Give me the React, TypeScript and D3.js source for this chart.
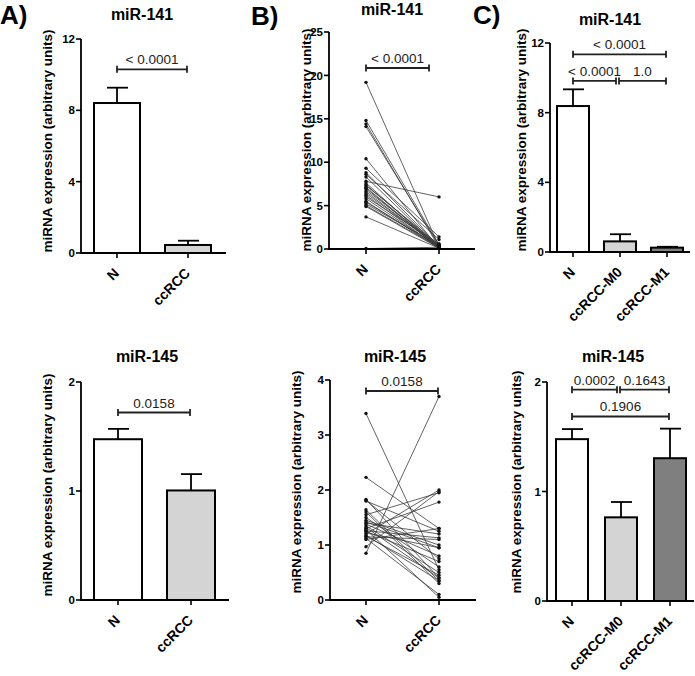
import React from "react";
import * as d3 from "d3";

// ---------- data ----------
const groupsNC = ["N", "ccRCC"];
const groupsM = ["N", "ccRCC-M0", "ccRCC-M1"];

const a141Mean = [8.41, 0.45];
const a141Err = [0.86, 0.24];
const a145Mean = [1.475, 1.005];
const a145Err = [0.095, 0.15];

const c141Mean = [8.38, 0.61, 0.25];
const c141Err = [0.96, 0.41, 0.05];
const c145Mean = [1.478, 0.764, 1.304];
const c145Err = [0.092, 0.14, 0.27];

const b141N = [19.2, 14.8, 14.4, 14.1, 10.4, 9.3, 8.8, 8.6, 8.3, 7.8, 7.6, 7.4, 7.3, 7.1, 7.0, 6.8, 6.6, 6.4, 6.2, 6.0, 5.8, 5.5, 5.4, 5.2, 5.0, 4.9, 3.7, 0.05];
const b141C = [0.3, 0.5, 0.2, 0.4, 0.1, 1.4, 0.3, 1.1, 0.2, 6.0, 0.1, 0.3, 0.5, 0.2, 0.1, 0.4, 0.2, 0.3, 0.1, 0.6, 0.2, 0.1, 0.3, 0.4, 0.2, 0.1, 0.1, 0.2];
const b145N = [3.39, 2.23, 1.83, 1.81, 1.80, 1.64, 1.60, 1.55, 1.50, 1.45, 1.42, 1.40, 1.38, 1.35, 1.32, 1.30, 1.28, 1.26, 1.25, 1.22, 1.20, 1.18, 1.16, 1.15, 1.12, 1.10, 0.97, 0.85];
const b145C = [0.55, 1.30, 0.40, 0.75, 1.25, 0.35, 0.30, 1.95, 0.60, 1.00, 0.95, 1.20, 0.80, 0.50, 0.40, 1.78, 0.05, 1.13, 0.70, 0.95, 2.00, 0.35, 0.45, 1.10, 0.10, 1.30, 1.97, 3.70];

const ticks141 = [0, 4, 8, 12];
const ticks145 = [0, 1, 2];
const ticksB141 = [0, 5, 10, 15, 20, 25];
const ticksB145 = [0, 1, 2, 3, 4];

const fillsNC = ["#ffffff", "#d4d4d4"];
const fillsM = ["#ffffff", "#d4d4d4", "#7f7f7f"];

const brA141 = [{ label: "< 0.0001", from: 0, to: 1, y: 10.3 }];
const brA145 = [{ label: "0.0158", from: 0, to: 1, y: 1.72 }];
const brB141 = [{ label: "< 0.0001", from: 0, to: 1, y: 20.85 }];
const brB145 = [{ label: "0.0158", from: 0, to: 1, y: 3.8 }];
const brC141 = [
  { label: "< 0.0001", from: 0, to: 2, y: 11.35 },
  { label: "< 0.0001", from: 0, to: 1, y: 9.82 },
  { label: "1.0", from: 1, to: 2, y: 9.82 },
];
const brC145 = [
  { label: "0.0002", from: 0, to: 1, y: 1.93 },
  { label: "0.1643", from: 1, to: 2, y: 1.93 },
  { label: "0.1906", from: 0, to: 2, y: 1.685 },
];

const YLABEL = "miRNA expression (arbitrary units)";
const FONT = "'Liberation Sans', Arial, Helvetica, sans-serif";

type Br = { label: string; from: number; to: number; y: number };

type Layout = {
  x0: number; xEnd: number; yTop: number; yZero: number;
  centers: number[]; barW: number;
  title: string; titleX: number; titleY: number; yLabelX: number; yLabelY: number;
  shrinkRight?: number;
};

function Axes({ L, y, ticks, groups }: { L: Layout; y: d3.ScaleLinear<number, number>; ticks: number[]; groups: string[] }) {
  const x = d3.scalePoint<string>().domain(groups).range([L.centers[0], L.centers[L.centers.length - 1]]);
  return (
    <g>
      <line x1={L.x0} x2={L.x0} y1={y(ticks[ticks.length - 1])} y2={L.yZero + 0.8} stroke="#000" strokeWidth={1.8} />
      <line x1={L.x0 - 0.9} x2={L.xEnd} y1={L.yZero} y2={L.yZero} stroke="#000" strokeWidth={1.8} />
      {ticks.map((t) => (
        <g key={t}>
          <line x1={L.x0 - 5} x2={L.x0} y1={y(t)} y2={y(t)} stroke="#000" strokeWidth={1.6} />
          <text x={L.x0 - 6} y={y(t)} dy="0.36em" textAnchor="end" fontSize={11.5} fontWeight="bold" fontFamily={FONT}>{t}</text>
        </g>
      ))}
      {groups.map((g) => (
        <g key={g}>
          <line x1={x(g)} x2={x(g)} y1={L.yZero} y2={L.yZero + 5} stroke="#000" strokeWidth={1.6} />
          <text transform={`translate(${(x(g) as number) + 3},${L.yZero + 21}) rotate(-45)`} textAnchor="end" fontSize={14} fontWeight="bold" fontFamily={FONT}>{g}</text>
        </g>
      ))}
      <text transform={`translate(${L.yLabelX},${L.yLabelY}) rotate(-90)`} textAnchor="middle" dy="0.35em" fontSize={13.5} fontWeight="bold" fontFamily={FONT}>{YLABEL}</text>
      <text x={L.titleX} y={L.titleY} textAnchor="middle" fontSize={16} fontWeight="bold" fontFamily={FONT}>{L.title}</text>
    </g>
  );
}

function Brackets({ L, y, brs, groups }: { L: Layout; y: d3.ScaleLinear<number, number>; brs: Br[]; groups: string[] }) {
  const x = d3.scalePoint<string>().domain(groups).range([L.centers[0], L.centers[L.centers.length - 1]]);
  return (
    <g>
      {brs.map((b, i) => {
        const sameRow = brs.filter((o) => o !== b && Math.abs(o.y - b.y) < 1e-6);
        const leftAdj = sameRow.some((o) => o.to === b.from);
        const rightAdj = sameRow.some((o) => o.from === b.to);
        const x1 = (x(groups[b.from]) as number) + (leftAdj ? -1 : 0);
        const x2 = (x(groups[b.to]) as number) - (rightAdj ? 4 : 1) - (L.shrinkRight || 0);
        const yy = y(b.y);
        return (
          <g key={i}>
            <line x1={x1} x2={x2} y1={yy} y2={yy} stroke="#222" strokeWidth={1.8} />
            <line x1={x1} x2={x1} y1={yy - 3.5} y2={yy + 3.5} stroke="#222" strokeWidth={1.8} />
            <line x1={x2} x2={x2} y1={yy - 3.5} y2={yy + 3.5} stroke="#222" strokeWidth={1.8} />
            <text x={(x1 + x2) / 2} y={yy - 5} textAnchor="middle" fontSize={13.5} fontFamily={FONT} fill="#222">{b.label}</text>
          </g>
        );
      })}
    </g>
  );
}

function BarPanel({ L, ticks, groups, means, errs, fills, brs }: { L: Layout; ticks: number[]; groups: string[]; means: number[]; errs: number[]; fills: string[]; brs: Br[] }) {
  const y = d3.scaleLinear().domain([0, ticks[ticks.length - 1]]).range([L.yZero, L.yTop]);
  const x = d3.scalePoint<string>().domain(groups).range([L.centers[0], L.centers[L.centers.length - 1]]);
  return (
    <g>
      {groups.map((g, i) => {
        const cx = x(g) as number;
        const top = y(means[i]);
        const et = y(means[i] + errs[i]);
        return (
          <g key={g}>
            <line x1={cx} x2={cx} y1={top} y2={et} stroke="#000" strokeWidth={1.8} />
            <line x1={cx - 10} x2={cx + 11} y1={et} y2={et} stroke="#000" strokeWidth={1.8} />
            <rect x={cx - L.barW / 2} y={top} width={L.barW} height={L.yZero - top} fill={fills[i]} stroke="#000" strokeWidth={2} />
          </g>
        );
      })}
      <Axes L={L} y={y} ticks={ticks} groups={groups} />
      <Brackets L={L} y={y} brs={brs} groups={groups} />
    </g>
  );
}

function PairPanel({ L, ticks, groups, before, after, brs }: { L: Layout; ticks: number[]; groups: string[]; before: number[]; after: number[]; brs: Br[] }) {
  const y = d3.scaleLinear().domain([0, ticks[ticks.length - 1]]).range([L.yZero, L.yTop]);
  const x = d3.scalePoint<string>().domain(groups).range([L.centers[0], L.centers[1]]);
  const line = d3.line<[number, number]>().x((d) => d[0]).y((d) => d[1]);
  const xa = x(groups[0]) as number;
  const xb = x(groups[1]) as number;
  return (
    <g>
      {before.map((v, i) => (
        <path key={"l" + i} d={line([[xa, y(v)], [xb, y(after[i])]]) || ""} stroke="#3a3a3a" strokeWidth={0.8} fill="none" />
      ))}
      {before.map((v, i) => (
        <g key={"p" + i}>
          <circle cx={xa} cy={y(v)} r={1.7} fill="#111" />
          <circle cx={xb} cy={y(after[i])} r={1.7} fill="#111" />
        </g>
      ))}
      <Axes L={L} y={y} ticks={ticks} groups={groups} />
      <Brackets L={L} y={y} brs={brs} groups={groups} />
    </g>
  );
}

const LA1: Layout = { x0: 81, xEnd: 226, yTop: 39, yZero: 253, centers: [117, 188], barW: 46, title: "miR-141", titleX: 142, titleY: 20, yLabelX: 47, yLabelY: 141 };
const LA2: Layout = { x0: 81, xEnd: 229, yTop: 382, yZero: 600, centers: [118, 191], barW: 48, title: "miR-145", titleX: 147, titleY: 362, yLabelX: 47, yLabelY: 485 };
const LB1: Layout = { x0: 329, xEnd: 475, yTop: 32, yZero: 249, centers: [366, 439], barW: 0, title: "miR-141", titleX: 392, titleY: 15, yLabelX: 306, yLabelY: 140, shrinkRight: 9 };
const LB2: Layout = { x0: 330, xEnd: 476, yTop: 380, yZero: 600, centers: [366, 439], barW: 0, title: "miR-145", titleX: 395, titleY: 362, yLabelX: 296, yLabelY: 482 };
const LC1: Layout = { x0: 550, xEnd: 690, yTop: 43, yZero: 252, centers: [573, 620, 667], barW: 32, title: "miR-141", titleX: 610, titleY: 25, yLabelX: 521, yLabelY: 140 };
const LC2: Layout = { x0: 547, xEnd: 694, yTop: 382, yZero: 601, centers: [572, 621, 670], barW: 32, title: "miR-145", titleX: 613, titleY: 362, yLabelX: 516, yLabelY: 482 };

export default function App() {
  return (
    <svg width={695} height={676} style={{ position: "absolute", left: 0, top: 0, background: "#fff" }} fontFamily={FONT}>
      <rect width={695} height={676} fill="#fff" />
      <text x={0} y={24} fontSize={26} fontWeight="bold" fontFamily={FONT}>A)</text>
      <text x={251} y={25} fontSize={26} fontWeight="bold" fontFamily={FONT}>B)</text>
      <text x={473} y={24} fontSize={26} fontWeight="bold" fontFamily={FONT}>C)</text>
      <BarPanel L={LA1} ticks={ticks141} groups={groupsNC} means={a141Mean} errs={a141Err} fills={fillsNC} brs={brA141} />
      <BarPanel L={LA2} ticks={ticks145} groups={groupsNC} means={a145Mean} errs={a145Err} fills={fillsNC} brs={brA145} />
      <PairPanel L={LB1} ticks={ticksB141} groups={groupsNC} before={b141N} after={b141C} brs={brB141} />
      <PairPanel L={LB2} ticks={ticksB145} groups={groupsNC} before={b145N} after={b145C} brs={brB145} />
      <BarPanel L={LC1} ticks={ticks141} groups={groupsM} means={c141Mean} errs={c141Err} fills={fillsM} brs={brC141} />
      <BarPanel L={LC2} ticks={ticks145} groups={groupsM} means={c145Mean} errs={c145Err} fills={fillsM} brs={brC145} />
    </svg>
  );
}
